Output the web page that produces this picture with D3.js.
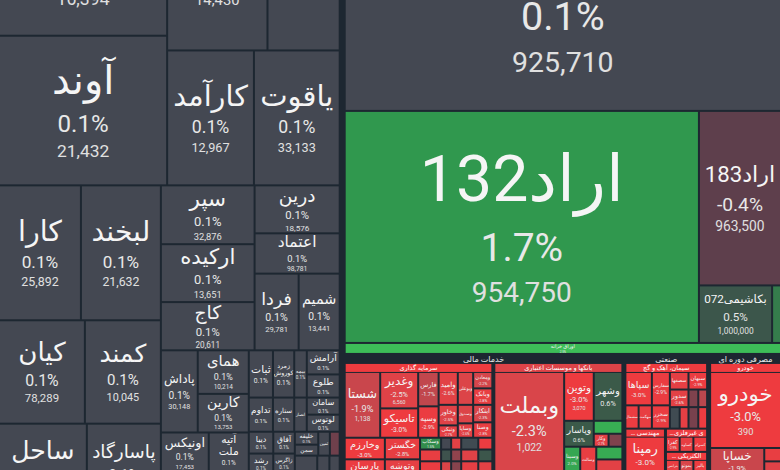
<!DOCTYPE html>
<html><head><meta charset="utf-8">
<script src="https://cdn.jsdelivr.net/npm/d3@7"></script>
<style>html,body{margin:0;padding:0;background:#1d2731;overflow:hidden}svg{display:block}</style>
</head><body><svg id="c" width="780" height="470"></svg>
<script>
// ---------- data ----------
const names = ["","آوند","","","کارآمد","یاقوت","کارا","لبخند","کیان","کمند","ساحل","پاسارگاد","سپر","ارکیده","کاج","درین","اعتماد","فردا","شمیم","پاداش","همای","کارین","اونیکس","آتیه ملت","ثبات","زمرد کوروش","بیمه","آرامش","طلوع","تداوم","ستاره","انصار","سامان","لوتوس","دیبا","رشد","","آفاق","زاگرس","","خلیفه","سمن","ثمین","","","","","",
"","اراد132","اراد183","بکاشیمی072","","اوراق خزانه",
"شستا","وغدیر","تاسیکو","فارس","وسپه","وامید","وبوعلی","ومعادن","وبانک","وخاور","ونیکی","وصندوق","وساپا","ابتکار","وصنا","وخارزم","پارسان","","خگستر","وتوشه","","وسکاب","","","","","","","","","","","","","","","",
"وبملت","","وتوین","وشهر","وپاسار","","وکار","","وسینا","","وسالت","","","","",
"سپاها","سشمال","سهگمت","سفارس","سخزر","سصفها","سبهان","سدور","","","","","","",
"رمپنا","","کفرا","کساوه","کسرام","بترانس","بموتو","بالبر","",
"خودرو","خساپا","","","","",
"",""];
const changes = [0.1,0.1,0.1,0.1,0.1,0.1,0.1,0.1,0.1,0.1,0.1,0.1,0.1,0.1,0.1,0.1,0.1,0.1,0.1,0.1,0.1,0.1,0.1,0.1,0.1,0.1,0.1,0.1,0.1,0.1,0.1,0.1,0.1,0.1,0.1,0.1,0.1,0.1,0.1,0.1,0.1,0.1,0.1,-0.6,0.1,0.1,0.1,0.1,
0.1,1.7,-0.4,0.5,1.2,2.5,
-1.9,-2.5,-3.0,-1.7,-2.9,-2.6,-2.4,-2.2,-2.8,-2.5,-2.7,-2.4,-2.6,-2.3,-2.8,-3.0,-2.9,-2.5,-2.8,-2.7,-2.5,1.5,0.1,-2.6,0.2,-2.9,-2.8,0.4,-1.0,-2.5,0.5,-2.9,-2.4,-0.9,-2.7,-2.6,-2.5,
-2.3,-2.5,-3.0,0.6,0.6,2.2,-2.7,-0.8,2.0,-2.5,-2.8,-2.5,2.1,-2.6,-2.5,
-3.0,-2.9,-2.8,-2.9,-2.9,-2.7,-2.9,-2.6,-0.8,-1.5,0.2,-2.7,-0.7,-2.9,
-3.0,-2.5,-2.9,-2.8,-3.0,-2.8,-2.3,-3.0,-2.5,
-3.0,-1.9,-2.5,-2.8,-2.5,-2.5,
0.1,0.1];
const prices = ["16,394","21,432","14,430","","12,967","33,133","25,892","21,632","78,289","10,045","…","…","32,876","13,651","20,611","18,576","98,781","29,781","13,441","30,148","10,214","13,753","17,453","…","","","","","","","","","","","","","","","","","","","","","","","","",
"925,710","954,750","963,500","1,000,000","","",
"1,138","6,560","","","","","","","","","","","","","","","","","","","","","","","","","","","","","","","","","","","",
"1,022","","3,070","","","","","","","","","","","","",
"","","","","","","","","","","","","","",
"12,600","","","","","","","","",
"390","","","","","",
"",""];
const weights = [26150,25290,17090,12300,11770,11630,11110,10842,8925,7899,8087,6815,5543,5452,4543,4103,3447,3396,3164,3044,2235,1981,2011,1682,1148,1010,597,797,764,830,731,432,565,565,537,489,1417,473,430,1247,305,258,279,236,469,254,215,2462,
100510,82360,14350,4218,513,4807,
2368,1404,1131,714,651,640,512,320,320,400,240,288,224,340,300,880,880,2040,770,770,1785,252,120,120,204,168,252,120,120,204,168,252,120,120,204,168,4248,
7313,3976,1470,1421,780,377,195,182,416,960,416,960,338,338,1560,
924,322,322,627,437,342,342,342,180,162,220,198,220,198,
1804,2140,229,229,229,172,172,172,2580,
5630,1470,3225,234,234,983,
5012,2563];
const sectorNames = ["خدمات مالی","صنعتی","مصرفی دوره ای"];
const groupNames = ["سرمایه گذاری","بانکها و موسسات اعتباری","سیمان، آهک و گچ","فعالیت مهندسی","کانی غیرفلزی","ماشین آلات الکتریکی","خودرو"];

// ---------- nesting (which cells share a split) ----------
const wrap = c => typeof c === 'number' ? {leaf: c} : c;
const X = (c, pad) => ({dir:'x', pad, children: c.map(wrap)});
const Y = (c, pad) => ({dir:'y', pad, children: c.map(wrap)});
const S = (t, child) => ({dir:'x', children:[child], head: sectorNames[t], kind:'s', pt:9});
const G = (t, node, pt = 9) => Object.assign(node, {head: groupNames[t], kind:'g', pt});

const layout = X([
  Y([
    X([ Y([0, 1]), Y([ X([2, 3]), X([4, 5]) ]) ]),
    X([
      Y([ X([6, 7]), X([8, 9]), X([10, 11]), 136 ]),
      Y([
        X([ Y([12, 13, 14]), Y([15, 16, X([17, 18])]) ]),
        X([
          Y([ X([19, Y([20, 21])]), X([22, 23]), 135 ]),
          Y([
            X([24, 25, 26, Y([27, 28])]),
            X([29, 30, 31, Y([32, 33])]),
            X([ Y([34, 35, 36]), Y([37, 38, 39]), Y([ X([Y([40, 41]), 42, 43]), X([44, 45, 46]), 47 ]) ])
          ])
        ])
      ])
    ])
  ]),
  Y([
    48,
    X([49, Y([50, X([51, 52])])]),
    53,
    X([
      S(0, X([
        G(0, Y([
          X([54, Y([55, 56]), Y([57, 58]), Y([ X([59, 60, Y([61, 62])]), X([Y([63, 64]), Y([65, 66]), Y([67, 68])]) ]) ]),
          X([ Y([69, 70, 71]), Y([72, 73, 74]), Y([ X([75,76,77,78,79]), X([80,81,82,83,84]), X([85,86,87,88,89]), 90 ]) ])
        ])),
        G(1, X([
          Y([91, 92]),
          Y([ X([93, 94]), X([95, Y([96, X([97, 98])])]), X([ Y([99, 100]), Y([101, 102]), Y([103, 104, 105]) ]) ])
        ]))
      ], 4)),
      S(1, Y([
        G(2, X([ Y([106, X([107, 108])]), Y([109, 110]), Y([ X([111, 112]), X([113, 114, 115]), X([116, 117, 118, 119]) ]) ])),
        X([ G(3, Y([120, 121]), 8), Y([ G(4, X([122, 123, 124]), 8), G(5, Y([X([125, 126, 127]), 128]), 8) ]) ], 3)
      ])),
      S(2, G(6, Y([129, X([Y([130, 131]), Y([132, 133, 134])])])))
    ], 5)
  ], 2)
], 7);

// ---------- layout ----------
const W = 780, H = 648, TOP = -118;
function tile(node, x0, y0, x1, y1) {
  const v = node.value;
  node.value = d3.sum(node.children, c => c.value);
  (node.data.dir === 'x' ? d3.treemapDice : d3.treemapSlice)(node, x0, y0, x1, y1);
  node.value = v;
}
function computeLayout() {
  const h = d3.hierarchy(layout, d => d.children)
    .sum(d => d.children ? (d.own || 0) : weights[d.leaf]);
  return d3.treemap().size([W, H]).tile(tile)
    .paddingInner(n => n.data.pad ?? 2)
    .paddingTop(n => n.data.pt || 0)(h);
}
let root;
for (let it = 0; it < 5; it++) {
  root = computeLayout();
  const k = root.value / (W * H);
  root.each(n => { if (n.data.pt) n.data.own = n.data.pt * (n.x1 - n.x0) * k; });
}

const color = d3.scaleLinear()
  .domain([-3, -2.3, -1.5, -0.4, 0.15, 0.6, 1.7, 2.5])
  .range(["#ee3b3f", "#d9454a", "#b9474e", "#5e3f4c", "#414953", "#3b5a49", "#30984e", "#3dbd58"])
  .clamp(true);

// ---------- draw ----------
const FONT = 'Roboto, "DejaVu Sans", sans-serif';
const ctx = document.createElement('canvas').getContext('2d');
function tw(s, size) { ctx.font = `${size}px ${FONT}`; return ctx.measureText(s).width; }
function fitLabel(s, size, maxW) {
  if (tw(s, size) <= maxW) return s;
  let t = s;
  while (t.length > 1 && tw('…' + t, size) > maxW) t = t.slice(1);
  return '…' + t;
}

const svg = d3.select('#c');
svg.append('rect').attr('width', 780).attr('height', 470).attr('fill', '#1d2731');
const defs = svg.append('defs');
const gRoot = svg.append('g').attr('transform', `translate(0,${TOP})`).style('font-family', FONT);

root.leaves().forEach((n, k) => {
  const i = n.data.leaf;
  const w = n.x1 - n.x0, h = n.y1 - n.y0;
  if (w <= 0 || h <= 0) return;
  gRoot.append('rect').attr('x', n.x0).attr('y', n.y0).attr('width', w).attr('height', h)
    .attr('fill', color(changes[i]));
  const name = names[i], pr = prices[i];
  if (!name && !pr) return;
  if (w < 5 || h < 5) return;
  const id = 'cl' + k;
  defs.append('clipPath').attr('id', id).append('rect')
    .attr('x', n.x0).attr('y', n.y0).attr('width', w).attr('height', h);
  const g = gRoot.append('g').attr('clip-path', `url(#${id})`).attr('text-anchor', 'middle');
  const cx = (n.x0 + n.x1) / 2, cy = (n.y0 + n.y1) / 2;
  const b8 = Math.pow(Math.min(Math.sqrt(w * h), 290), 0.8);
  let ns = 0.7 * b8, ps = 0.424 * b8, prs = 0.305 * b8;
  let lines = [name];
  let fit = name ? Math.min(1, 0.88 * w / tw(name, ns)) : 1;
  if (name.includes(' ') && fit < 0.8) {
    const parts = name.split(' ');
    const f2 = Math.min(1, 0.88 * w / d3.max(parts, p => tw(p, ns)));
    if (f2 > fit) { lines = parts; fit = f2; }
  }
  ns *= Math.max(fit, 0.6);
  const pct = changes[i].toFixed(1) + '%';
  ps = Math.min(ps, 0.9 * w / tw(pct, 1));
  const showPrice = pr !== '';
  if (showPrice) prs = Math.min(prs, 0.9 * w / tw(pr, 1));
  const total = 0.75 * ns + (lines.length - 1) * 1.15 * ns + 1.55 * ps + (showPrice ? 1.45 * prs : 0);
  const f = Math.min(1, 0.94 * h / total);
  if (ns * f < 5 && name) {
    const fs = Math.min(ns, 0.8 * h);
    g.append('text').attr('x', cx).attr('y', cy + 0.35 * fs).attr('font-size', fs)
      .attr('fill', '#f5f5f5').text(name);
    return;
  }
  ns *= f; ps *= f; prs *= f;
  let y = cy - total * f / 2 + 0.75 * ns;
  lines.forEach((ln, j) => {
    if (j > 0) y += 1.15 * ns;
    g.append('text').attr('x', cx).attr('y', y).attr('font-size', ns).attr('fill', '#f5f5f5').text(ln);
  });
  y += 1.55 * ps;
  g.append('text').attr('x', cx).attr('y', y).attr('font-size', ps).attr('fill', '#e8e8e8').text(pct);
  if (showPrice) {
    y += 1.45 * prs;
    g.append('text').attr('x', cx).attr('y', y).attr('font-size', prs).attr('fill', '#e0e0e0').text(pr);
  }
});

// group headers
root.descendants().filter(n => n.data.head).forEach((n, k) => {
  const w = n.x1 - n.x0, cx = (n.x0 + n.x1) / 2;
  if (n.data.kind === 's') {
    gRoot.append('text').attr('x', cx).attr('y', n.y0 + n.data.pt - 1.5)
      .attr('text-anchor', 'middle').attr('font-size', 8).attr('fill', '#ececec').text(n.data.head);
  } else {
    const lv = n.leaves();
    const mean = d3.sum(lv, l => changes[l.data.leaf] * weights[l.data.leaf]) / d3.sum(lv, l => weights[l.data.leaf]);
    const bh = n.data.pt - 1;
    gRoot.append('rect').attr('x', n.x0).attr('y', n.y0).attr('width', w).attr('height', bh)
      .attr('fill', color(mean * 1.3));
    const fs = 6.5;
    gRoot.append('text')
      .attr('x', cx).attr('y', n.y0 + bh - 2)
      .attr('text-anchor', 'middle')
      .attr('font-size', fs).attr('fill', '#ffffff').text(fitLabel(n.data.head, fs, w - 4));
  }
});
</script>
</body></html>
